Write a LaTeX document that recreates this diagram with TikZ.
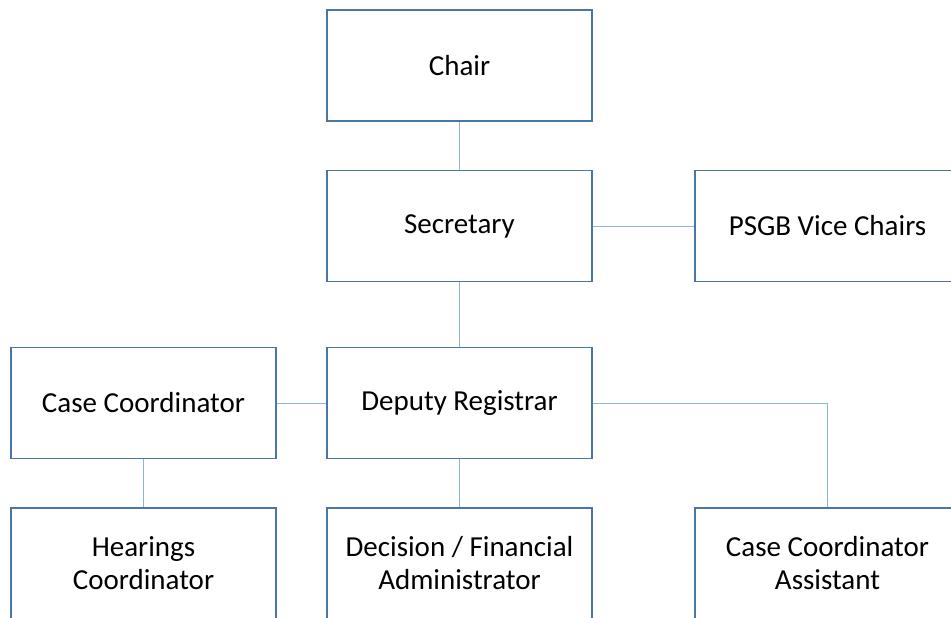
\documentclass[tikz,border=0pt]{standalone}
\usepackage{fontspec}
\setmainfont{Carlito}
\usetikzlibrary{positioning}

\definecolor{boxblue}{RGB}{74,117,168}
\definecolor{lineblue}{RGB}{141,180,226}

\tikzset{
  post/.style={draw=boxblue, line width=1.3pt, fill=white,
    minimum width=265pt, minimum height=111pt, inner sep=0pt,
    align=center, font=\fontsize{29}{33}\selectfont},
  link/.style={draw=lineblue, line width=1pt}
}

\begin{document}
\begin{tikzpicture}[x=1pt,y=-1pt]
  % page frame
  \useasboundingbox (0,0) rectangle (951,618);
  \clip (0,0) rectangle (951,618);

  % top of the tree
  \node[post] (chair) at (459.5,65.5) {Chair};
  \node[post] (secretary) at (459.5,226) {Secretary};
  \node[post] (vicechairs) at (827.5,226) {PSGB Vice Chairs};

  % middle row
  \node[post] (casecoord) at (143.5,403) {Case Coordinator};
  \node[post] (deputy) at (459.5,403) {Deputy Registrar};

  % bottom row (cut by the page edge)
  \node[post] (hearings) at (143.5,563.5) {Hearings\\Coordinator};
  \node[post] (decision) at (459.5,563.5) {Decision / Financial\\Administrator};
  \node[post] (assistant) at (827.5,563.5) {Case Coordinator\\Assistant};

  % links
  \draw[link] (chair) -- (secretary);
  \draw[link] (secretary) -- (vicechairs);
  \draw[link] (secretary) -- (deputy);
  \draw[link] (casecoord) -- (deputy);
  \draw[link] (casecoord) -- (hearings);
  \draw[link] (deputy) -- (decision);
  \draw[link] (deputy.east) -| (assistant.north);
\end{tikzpicture}
\end{document}
